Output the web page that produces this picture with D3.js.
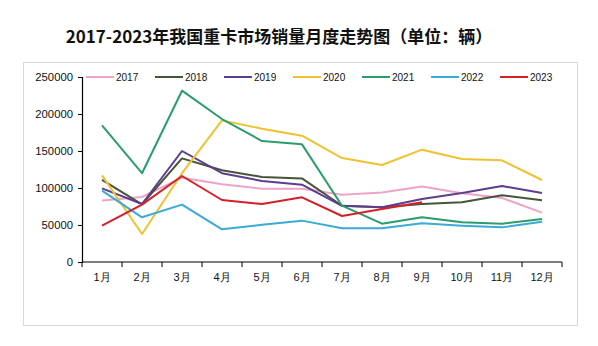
<!DOCTYPE html>
<html><head><meta charset="utf-8">
<script src="https://cdn.jsdelivr.net/npm/d3@7"></script>
<style>
html,body{margin:0;padding:0;background:#fff;}
svg{display:block;}
</style></head>
<body>
<svg id="c" width="598" height="346"></svg>
<script>
const months = ["1月","2月","3月","4月","5月","6月","7月","8月","9月","10月","11月","12月"];
const years = ["2017","2018","2019","2020","2021","2022","2023"];
const s2017 = [83000, 88000, 114000, 105000, 99000, 99000, 91000, 94000, 102000, 93000, 86500, 66700];
const s2018 = [111000, 78000, 140000, 124000, 115000, 113000, 76000, 74000, 78400, 80600, 90100, 83300];
const s2019 = [99500, 78400, 150000, 120000, 109500, 104500, 76000, 74000, 85100, 93200, 102700, 93200];
const s2020 = [117000, 37800, 120000, 191400, 180200, 170700, 140500, 131100, 151800, 139200, 137400, 110800];
const s2021 = [184700, 120000, 231500, 193200, 163500, 159000, 76100, 51800, 60400, 53600, 51800, 58100];
const s2022 = [96400, 60400, 77500, 44100, 50400, 55900, 45500, 45500, 52300, 49100, 46800, 54500];
const s2023 = [49100, 77500, 116200, 83800, 78400, 87400, 62200, 71600, 80600];
const yTicks = [0, 50000, 100000, 150000, 200000, 250000];
const colors = ["#F0A3C9", "#46553A", "#5C3D8E", "#F0C230", "#2A9D6A", "#3AAAD6", "#D42027"];
const title = "2017-2023年我国重卡市场销量月度走势图（单位：辆）";

const seriesList = [s2017, s2018, s2019, s2020, s2021, s2022, s2023];

const svg = d3.select("#c");
// frame
svg.append("rect").attr("x", 23.5).attr("y", 62.5).attr("width", 554).attr("height", 263)
  .attr("fill", "#fff").attr("stroke", "#d9d9d9").attr("stroke-width", 1);

svg.append("text").attr("x", 279).attr("y", 43).attr("text-anchor", "middle")
  .attr("font-family", "'Noto Sans CJK SC', sans-serif").attr("font-weight", "bold")
  .attr("font-size", 17).attr("fill", "#111").text(title);

const x = d3.scaleBand().domain(months).range([82, 562]).padding(0);
const y = d3.scaleLinear().domain([0, 250000]).range([262, 77]);

const font = "'Liberation Sans', Arial, sans-serif";

// y axis
const gy = svg.append("g").attr("transform", "translate(82,0)")
  .call(d3.axisLeft(y).tickValues(yTicks).tickSize(4).tickPadding(5).tickFormat(d3.format("d")));
gy.select(".domain").attr("stroke", "#000").attr("stroke-width", 1.2);
gy.selectAll(".tick line").attr("stroke", "#000");
gy.selectAll("text").attr("font-family", font).attr("font-size", 11.3).attr("fill", "#111");

// x axis
const gx = svg.append("g").attr("transform", "translate(0,262)");
gx.append("line").attr("x1", x.range()[0]).attr("x2", x.range()[1]).attr("stroke", "#000").attr("stroke-width", 1.2);
const edges = months.map(m => x(m)).concat([x.range()[1]]);
gx.selectAll("line.tk").data(edges).enter().append("line").attr("class", "tk")
  .attr("x1", d => d).attr("x2", d => d).attr("y1", 0).attr("y2", 5).attr("stroke", "#000");
gx.selectAll("text").data(months).enter().append("text")
  .attr("x", d => x(d) + x.bandwidth() / 2).attr("y", 19).attr("text-anchor", "middle")
  .attr("font-family", font).attr("font-size", 11).attr("fill", "#111").text(d => d);

// lines
const line = d3.line().x((d, i) => x(months[i]) + x.bandwidth() / 2).y(d => y(d));
seriesList.forEach((s, i) => {
  svg.append("path").datum(s).attr("d", line).attr("fill", "none")
    .attr("stroke", colors[i]).attr("stroke-width", 2).attr("stroke-linejoin", "round");
});

// legend
const lg = svg.append("g");
years.forEach((yr, i) => {
  const lx = 86 + i * 69;
  lg.append("line").attr("x1", lx).attr("x2", lx + 28).attr("y1", 77).attr("y2", 77)
    .attr("stroke", colors[i]).attr("stroke-width", 2);
  lg.append("text").attr("x", lx + 30).attr("y", 80.5).attr("font-family", font)
    .attr("font-size", 10).attr("fill", "#111").text(yr);
});
</script>
</body></html>
